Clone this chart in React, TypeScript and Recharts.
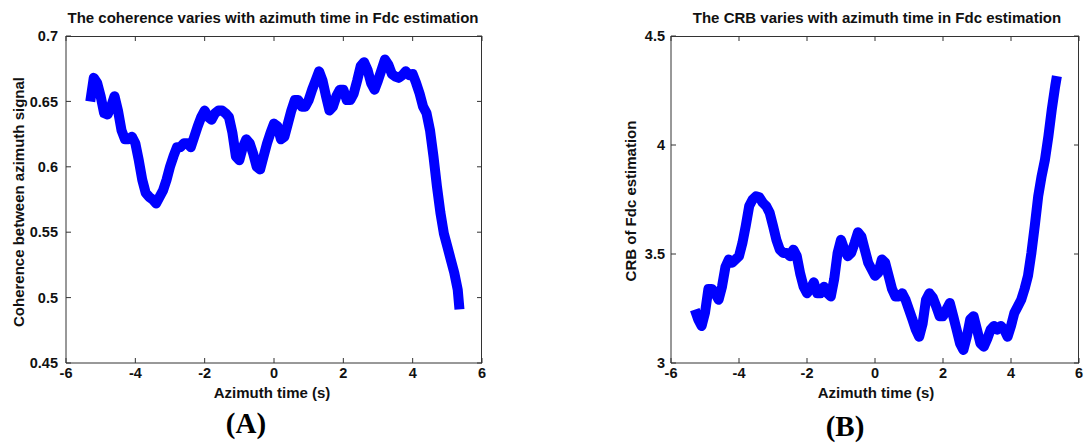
import React from "react";
import { LineChart, Line, XAxis, YAxis } from "recharts";

// azimuth time (s) at ~0.1 s steps
const azimuthTime = [
  -5.3, -5.2, -5.1, -5.0, -4.9, -4.8, -4.7, -4.6, -4.5, -4.4, -4.3, -4.2, -4.1, -4.0,
  -3.9, -3.8, -3.7, -3.6, -3.5, -3.4, -3.3, -3.2, -3.1, -3.0, -2.9, -2.8, -2.7, -2.6,
  -2.5, -2.4, -2.3, -2.2, -2.1, -2.0, -1.9, -1.8, -1.7, -1.6, -1.5, -1.4, -1.3, -1.2,
  -1.1, -1.0, -0.9, -0.8, -0.7, -0.6, -0.5, -0.4, -0.3, -0.2, -0.1, 0.0, 0.1, 0.2,
  0.3, 0.4, 0.5, 0.6, 0.7, 0.8, 0.9, 1.0, 1.1, 1.2, 1.3, 1.4, 1.5, 1.6, 1.7, 1.8,
  1.9, 2.0, 2.1, 2.2, 2.3, 2.4, 2.5, 2.6, 2.7, 2.8, 2.9, 3.0, 3.1, 3.2, 3.3, 3.4,
  3.5, 3.6, 3.7, 3.8, 3.9, 4.0, 4.1, 4.2, 4.3, 4.4, 4.5, 4.6, 4.7, 4.8, 4.9, 5.0,
  5.1, 5.2, 5.3, 5.35,
];

// (A) coherence between azimuth signal
const coherence = [
  0.65, 0.668, 0.664, 0.654, 0.641, 0.64, 0.646, 0.654, 0.643, 0.628, 0.621, 0.621, 0.623, 0.618,
  0.605, 0.59, 0.58, 0.577, 0.575, 0.572, 0.577, 0.582, 0.59, 0.6, 0.608, 0.615, 0.615, 0.618,
  0.618, 0.615, 0.623, 0.631, 0.638, 0.643, 0.638, 0.636, 0.641, 0.643, 0.643, 0.641, 0.638, 0.626,
  0.608, 0.605, 0.615, 0.621, 0.618, 0.61, 0.6, 0.598, 0.608, 0.618, 0.626, 0.633, 0.631, 0.621,
  0.623, 0.633, 0.643, 0.651, 0.651, 0.646, 0.646, 0.651, 0.659, 0.666, 0.673, 0.666, 0.654, 0.643, 0.646, 0.654,
  0.659, 0.659, 0.651, 0.651, 0.656, 0.666, 0.677, 0.68, 0.674, 0.664, 0.659, 0.666, 0.674, 0.682, 0.678, 0.671,
  0.669, 0.668, 0.67, 0.673, 0.67, 0.671, 0.664, 0.656, 0.646, 0.641, 0.628, 0.608, 0.585, 0.565, 0.549, 0.539,
  0.529, 0.519, 0.506, 0.491,
];

// (B) CRB of Fdc estimation
const crb = [
  3.245, 3.2, 3.17, 3.23, 3.34, 3.34, 3.32, 3.29, 3.35, 3.44, 3.475, 3.46, 3.475, 3.49,
  3.55, 3.63, 3.72, 3.75, 3.765, 3.76, 3.735, 3.72, 3.69, 3.63, 3.565, 3.52, 3.505, 3.505,
  3.49, 3.52, 3.49, 3.41, 3.35, 3.32, 3.34, 3.37, 3.32, 3.32, 3.35, 3.32, 3.305, 3.385,
  3.505, 3.565, 3.52, 3.49, 3.505, 3.55, 3.6, 3.58, 3.52, 3.46, 3.43, 3.4, 3.415, 3.475,
  3.46, 3.4, 3.34, 3.305, 3.305, 3.32, 3.29, 3.245, 3.2, 3.153, 3.12, 3.18, 3.29, 3.32, 3.3, 3.26,
  3.215, 3.215, 3.245, 3.275, 3.215, 3.153, 3.09, 3.06, 3.12, 3.2, 3.215, 3.153, 3.09, 3.075, 3.11, 3.153,
  3.17, 3.153, 3.17, 3.153, 3.12, 3.17, 3.23, 3.26, 3.29, 3.34, 3.4, 3.505, 3.63, 3.765, 3.857, 3.934,
  4.04, 4.163, 4.27, 4.316,
];

const xTicks = [-6, -4, -2, 0, 2, 4, 6];
const coherenceTicks = [0.45, 0.5, 0.55, 0.6, 0.65, 0.7];
const crbTicks = [3, 3.5, 4, 4.5];

const SANS = "'Liberation Sans', Arial, sans-serif";
const AXIS = "#333333";
const tickStyle = { fill: "#111", fontSize: 14.5, fontWeight: "bold", fontFamily: SANS };

// shared panel layout
const CHART_W = 500;
const CHART_H = 445;
const PLOT_TOP = 36;
const X_AXIS_H = 82;
const X_DOMAIN: [number, number] = [-6, 6];

type PanelProps = {
  values: number[];
  yDomain: [number, number];
  yTicks: number[];
  left: number;
  yAxisWidth: number;
  marginRight: number;
  yTickMargin: number;
};

function Panel({ values, yDomain, yTicks, left, yAxisWidth, marginRight, yTickMargin }: PanelProps) {
  const data = azimuthTime.map((t, i) => ({ t, v: values[i] }));
  const plotW = CHART_W - yAxisWidth - marginRight;
  const plotH = CHART_H - PLOT_TOP - X_AXIS_H;
  return (
    <div style={{ position: "absolute", left, top: 0, width: CHART_W, height: CHART_H }}>
      <LineChart
        width={CHART_W}
        height={CHART_H}
        data={data}
        margin={{ top: PLOT_TOP, right: marginRight, bottom: 0, left: 0 }}
      >
        <XAxis
          dataKey="t"
          type="number"
          domain={X_DOMAIN}
          ticks={xTicks}
          interval={0}
          height={X_AXIS_H}
          tickSize={-5}
          tickMargin={10}
          stroke={AXIS}
          tick={tickStyle}
        />
        <YAxis
          type="number"
          domain={yDomain}
          ticks={yTicks}
          interval={0}
          width={yAxisWidth}
          tickSize={-5}
          tickMargin={yTickMargin}
          stroke={AXIS}
          tick={tickStyle}
        />
        <Line
          dataKey="v"
          type="linear"
          stroke="#0000ff"
          strokeWidth={10}
          strokeLinejoin="round"
          dot={false}
          activeDot={false}
          isAnimationActive={false}
        />
      </LineChart>
      {/* box outline around the plot area (MATLAB style) */}
      <div
        style={{
          position: "absolute",
          left: yAxisWidth,
          top: PLOT_TOP,
          width: plotW,
          height: plotH,
          boxSizing: "border-box",
          border: `1px solid ${AXIS}`,
          borderLeft: "none",
          borderBottom: "none",
          pointerEvents: "none",
        }}
      />
    </div>
  );
}

// inward tick marks on the top and right edges
function BoxTicks({ yDomain, yTicks, left, yAxisWidth, marginRight }: PanelProps) {
  const x0 = left + yAxisWidth;
  const x1 = left + CHART_W - marginRight;
  const y0 = PLOT_TOP;
  const y1 = CHART_H - X_AXIS_H;
  const sx = (v: number) => x0 + ((v - X_DOMAIN[0]) / (X_DOMAIN[1] - X_DOMAIN[0])) * (x1 - x0);
  const sy = (v: number) => y1 - ((v - yDomain[0]) / (yDomain[1] - yDomain[0])) * (y1 - y0);
  return (
    <g stroke={AXIS} strokeWidth={1} fill="none">
      {xTicks.map((t) => (
        <line key={`t${t}`} x1={sx(t)} y1={y0} x2={sx(t)} y2={y0 + 5} />
      ))}
      {yTicks.map((t) => (
        <line key={`r${t}`} x1={x1} y1={sy(t)} x2={x1 - 5} y2={sy(t)} />
      ))}
    </g>
  );
}

const panelA: PanelProps = {
  values: coherence,
  yDomain: [0.45, 0.7],
  yTicks: coherenceTicks,
  left: 0,
  yAxisWidth: 66,
  marginRight: 18,
  yTickMargin: 13,
};

const panelB: PanelProps = {
  values: crb,
  yDomain: [3, 4.5],
  yTicks: crbTicks,
  left: 590,
  yAxisWidth: 81,
  marginRight: 11,
  yTickMargin: 11,
};

export default function App() {
  return (
    <div
      style={{
        position: "absolute",
        left: 0,
        top: 0,
        width: 1090,
        height: 445,
        background: "#fff",
        overflow: "hidden",
      }}
    >
      <Panel {...panelA} />
      <Panel {...panelB} />
      <svg
        width={1090}
        height={445}
        style={{ position: "absolute", left: 0, top: 0, pointerEvents: "none" }}
      >
        <BoxTicks {...panelA} />
        <BoxTicks {...panelB} />
        <g fontFamily={SANS} fontWeight="bold" fill="#111" fontSize={15} textAnchor="middle">
          <text x={273} y={23}>The coherence varies with azimuth time in Fdc estimation</text>
          <text x={877} y={23}>The CRB varies with azimuth time in Fdc estimation</text>
          <text x={272} y={398}>Azimuth time (s)</text>
          <text x={876} y={398}>Azimuth time (s)</text>
          <text transform="translate(24,202) rotate(-90)">Coherence between azimuth signal</text>
          <text transform="translate(636,201) rotate(-90)">CRB of Fdc estimation</text>
        </g>
        <g fontFamily="'Liberation Serif', 'Times New Roman', serif" fontWeight="bold" fill="#000" fontSize={29} textAnchor="middle">
          <text x={246} y={433}>(A)</text>
          <text x={845} y={436}>(B)</text>
        </g>
      </svg>
    </div>
  );
}
